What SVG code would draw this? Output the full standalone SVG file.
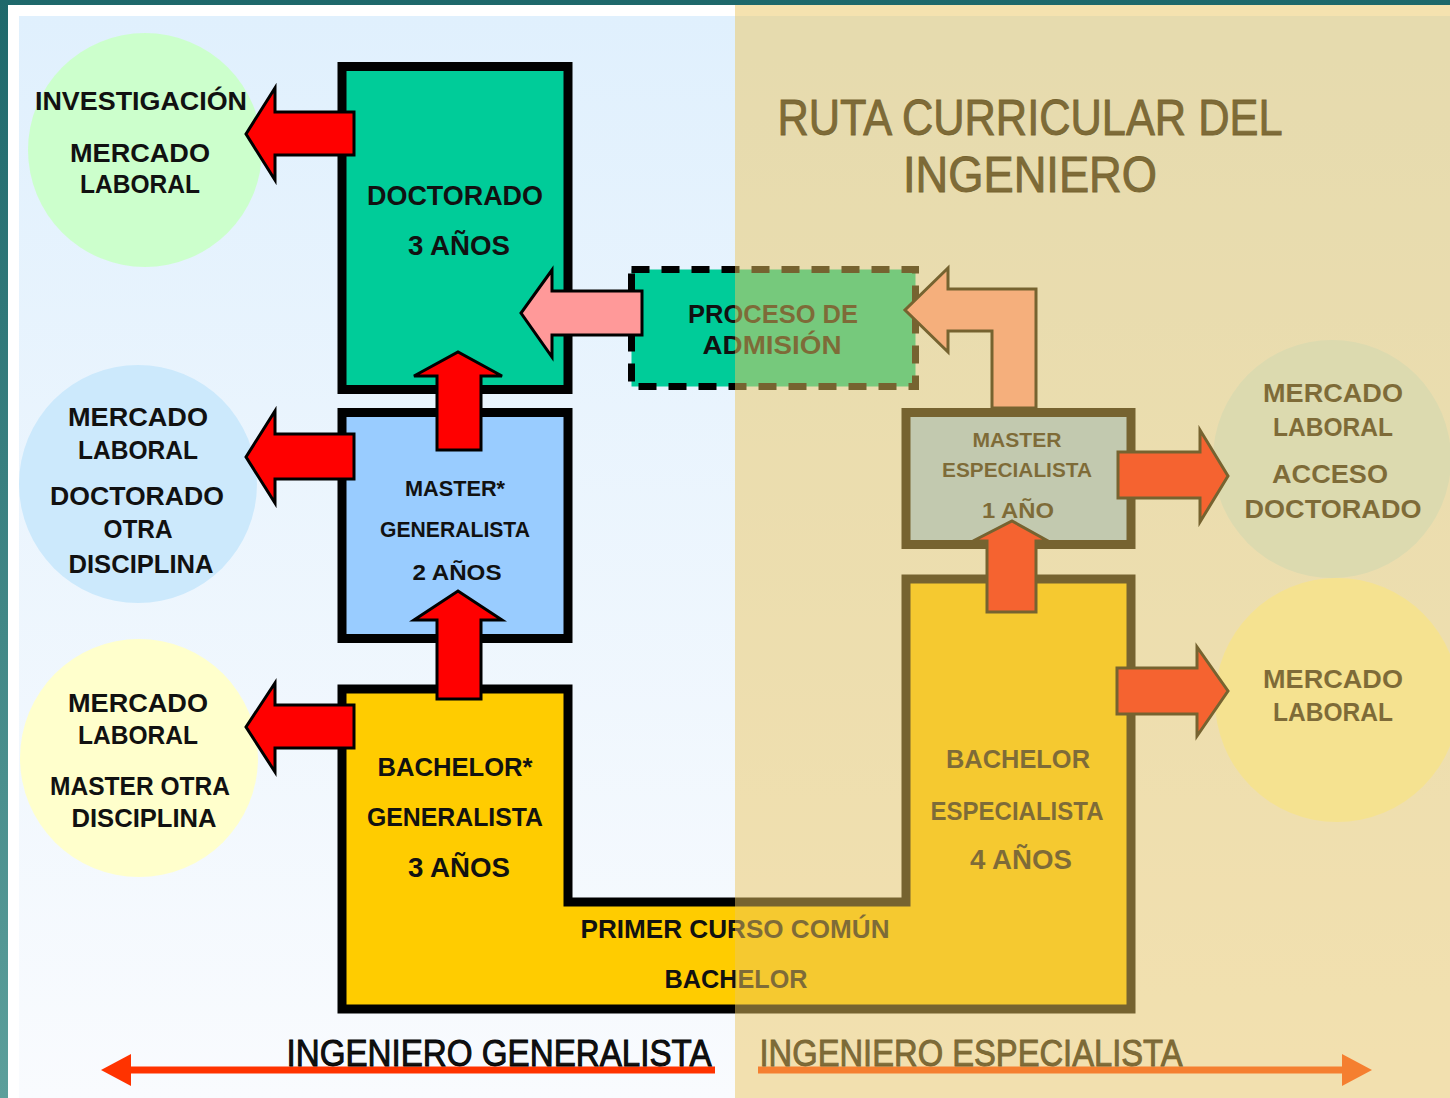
<svg xmlns="http://www.w3.org/2000/svg" width="1450" height="1098" viewBox="0 0 1450 1098">
<defs>
<linearGradient id="teal" x1="0" y1="0" x2="0" y2="1">
<stop offset="0" stop-color="#1e686b"/>
<stop offset="1" stop-color="#5c9f9b"/>
</linearGradient>
<linearGradient id="bg" x1="0" y1="0" x2="0" y2="1">
<stop offset="0" stop-color="#e0f0fd"/>
<stop offset="1" stop-color="#f9fbfe"/>
</linearGradient>
<style>
text{font-family:"Liberation Sans",Arial,sans-serif;fill:#111;text-anchor:middle}
.b{font-weight:bold}
.m{stroke:#000;stroke-width:0.9}
.box{stroke:#000;stroke-width:9}
.arr{stroke:#000;stroke-width:3;stroke-linejoin:miter}
.red{fill:#ff0000}
.pink{fill:#ff9999}
</style>
</defs>
<rect x="0" y="0" width="1450" height="1098" fill="url(#teal)"/>
<rect x="8" y="5" width="1442" height="1093" fill="#ffffff"/>
<rect x="19" y="16" width="1431" height="1082" fill="url(#bg)"/>

<g id="circle-investigacion">
<circle cx="145" cy="150" r="117" fill="#ccffcc"/>
<text class="b" x="141" y="110" font-size="25" textLength="212" lengthAdjust="spacingAndGlyphs">INVESTIGACIÓN</text>
<text class="b" x="140" y="162" font-size="25" textLength="140" lengthAdjust="spacingAndGlyphs">MERCADO</text>
<text class="b" x="140" y="193" font-size="25" textLength="120" lengthAdjust="spacingAndGlyphs">LABORAL</text>
</g>
<g id="circle-doctorado-otra">
<circle cx="138" cy="484" r="119" fill="#cce9fc"/>
<text class="b" x="138" y="426" font-size="25" textLength="140" lengthAdjust="spacingAndGlyphs">MERCADO</text>
<text class="b" x="138" y="459" font-size="25" textLength="120" lengthAdjust="spacingAndGlyphs">LABORAL</text>
<text class="b" x="137" y="505" font-size="25" textLength="174" lengthAdjust="spacingAndGlyphs">DOCTORADO</text>
<text class="b" x="138" y="538" font-size="25" textLength="69" lengthAdjust="spacingAndGlyphs">OTRA</text>
<text class="b" x="141" y="573" font-size="25" textLength="145" lengthAdjust="spacingAndGlyphs">DISCIPLINA</text>
</g>
<g id="circle-master-otra">
<circle cx="139" cy="758" r="119" fill="#ffffcc"/>
<text class="b" x="138" y="712" font-size="25" textLength="140" lengthAdjust="spacingAndGlyphs">MERCADO</text>
<text class="b" x="138" y="744" font-size="25" textLength="120" lengthAdjust="spacingAndGlyphs">LABORAL</text>
<text class="b" x="140" y="795" font-size="25" textLength="180" lengthAdjust="spacingAndGlyphs">MASTER OTRA</text>
<text class="b" x="144" y="827" font-size="25" textLength="145" lengthAdjust="spacingAndGlyphs">DISCIPLINA</text>
</g>
<g id="circle-acceso-doctorado">
<circle cx="1332" cy="459" r="119" fill="#cceeff"/>
<text class="b" x="1333" y="402" font-size="26" textLength="140" lengthAdjust="spacingAndGlyphs">MERCADO</text>
<text class="b" x="1333" y="436" font-size="26" textLength="120" lengthAdjust="spacingAndGlyphs">LABORAL</text>
<text class="b" x="1330" y="483" font-size="26" textLength="116" lengthAdjust="spacingAndGlyphs">ACCESO</text>
<text class="b" x="1333" y="518" font-size="26" textLength="177" lengthAdjust="spacingAndGlyphs">DOCTORADO</text>
</g>
<g id="circle-mercado-laboral">
<circle cx="1337" cy="700" r="122" fill="#ffffc0"/>
<text class="b" x="1333" y="688" font-size="26" textLength="140" lengthAdjust="spacingAndGlyphs">MERCADO</text>
<text class="b" x="1333" y="721" font-size="26" textLength="120" lengthAdjust="spacingAndGlyphs">LABORAL</text>
</g>

<g id="doctorado">
<rect class="box" x="342" y="66.5" width="226" height="323" fill="#00cc99"/>
<text class="b" x="455" y="205" font-size="27" textLength="176" lengthAdjust="spacingAndGlyphs">DOCTORADO</text>
<text class="b" x="459" y="255" font-size="27" textLength="102" lengthAdjust="spacingAndGlyphs">3 AÑOS</text>
</g>
<g id="master-generalista">
<rect class="box" x="342" y="412.5" width="226" height="226" fill="#99ccff"/>
<text class="b" x="455" y="496" font-size="22" textLength="100" lengthAdjust="spacingAndGlyphs">MASTER*</text>
<text class="b" x="455" y="537" font-size="22" textLength="150" lengthAdjust="spacingAndGlyphs">GENERALISTA</text>
<text class="b" x="457" y="580" font-size="22" textLength="89" lengthAdjust="spacingAndGlyphs">2 AÑOS</text>
</g>
<g id="bachelor">
<path class="box" d="M342,689 H568 V902 H906 V579 H1131 V1009 H342 Z" fill="#ffcc00"/>
<text class="b" x="455" y="776" font-size="26" textLength="155" lengthAdjust="spacingAndGlyphs">BACHELOR*</text>
<text class="b" x="455" y="826" font-size="26" textLength="176" lengthAdjust="spacingAndGlyphs">GENERALISTA</text>
<text class="b" x="459" y="877" font-size="27" textLength="102" lengthAdjust="spacingAndGlyphs">3 AÑOS</text>
<text class="b" x="735" y="938" font-size="25" textLength="309" lengthAdjust="spacingAndGlyphs">PRIMER CURSO COMÚN</text>
<text class="b" x="736" y="988" font-size="25" textLength="143" lengthAdjust="spacingAndGlyphs">BACHELOR</text>
<text class="b" x="1018" y="768" font-size="26" textLength="144" lengthAdjust="spacingAndGlyphs">BACHELOR</text>
<text class="b" x="1017" y="820" font-size="26" textLength="173" lengthAdjust="spacingAndGlyphs">ESPECIALISTA</text>
<text class="b" x="1021" y="869" font-size="27" textLength="102" lengthAdjust="spacingAndGlyphs">4 AÑOS</text>
</g>
<g id="proceso-admision">
<rect x="631.5" y="269.5" width="284" height="117" fill="#00cc99" stroke="#000" stroke-width="7" stroke-dasharray="18 12"/>
<text class="b" x="773" y="323" font-size="25" textLength="170" lengthAdjust="spacingAndGlyphs">PROCESO DE</text>
<text class="b" x="772" y="354" font-size="25" textLength="139" lengthAdjust="spacingAndGlyphs">ADMISIÓN</text>
</g>
<g id="master-especialista">
<rect class="box" x="906" y="412.5" width="225" height="132" fill="#99ccff"/>
<text class="b" x="1017" y="447" font-size="21" textLength="89" lengthAdjust="spacingAndGlyphs">MASTER</text>
<text class="b" x="1017" y="477" font-size="21" textLength="150" lengthAdjust="spacingAndGlyphs">ESPECIALISTA</text>
<text class="b" x="1018" y="518" font-size="22" textLength="72" lengthAdjust="spacingAndGlyphs">1 AÑO</text>
</g>

<g id="title">
<text class="m" x="1030" y="135" font-size="50" fill="#000" textLength="505" lengthAdjust="spacingAndGlyphs">RUTA CURRICULAR DEL</text>
<text class="m" x="1030" y="192" font-size="50" fill="#000" textLength="254" lengthAdjust="spacingAndGlyphs">INGENIERO</text>
</g>

<g id="connectors">
<polygon class="arr red" points="354,112 275,112 275,88 246,134 275,180 275,155 354,155"/>
<polygon class="arr red" points="354,434 275,434 275,411 246,457 275,503 275,479 354,479"/>
<polygon class="arr red" points="354,705 275,705 275,683 246,727 275,772 275,748 354,748"/>
<polygon class="arr red" points="437,450 437,376 414,376 458,352 502,376 481,376 481,450"/>
<polygon class="arr red" points="437,699 437,620 414,620 458,591 502,620 481,620 481,699"/>
<polygon class="arr red" points="987,612 987,541 973,541 1012,521 1048,541 1036,541 1036,612"/>
<polygon class="arr red" points="1118,452 1200,452 1200,430 1228,476 1200,522 1200,498 1118,498"/>
<polygon class="arr red" points="1117,668 1197,668 1197,647 1228,691 1197,736 1197,714 1117,714"/>
<polygon class="arr pink" points="642,291 552,291 552,270 521,313 552,357 552,335 642,335"/>
<polygon class="arr pink" points="1036,408 1036,289 948,289 948,268 905,310 948,352 948,331 992,331 992,408"/>
<line x1="128" y1="1070" x2="715" y2="1070" stroke="#ff3300" stroke-width="7"/>
<polygon points="101,1070 131,1054 131,1086" fill="#ff3300"/>
<line x1="758" y1="1070" x2="1345" y2="1070" stroke="#ff3800" stroke-width="7"/>
<polygon points="1372,1070 1342,1054 1342,1086" fill="#ff3800"/>
</g>

<g id="labels">
<text class="m" x="499" y="1066" font-size="37" fill="#000" textLength="425" lengthAdjust="spacingAndGlyphs">INGENIERO GENERALISTA</text>
<text class="m" x="971" y="1066" font-size="37" fill="#000" textLength="423" lengthAdjust="spacingAndGlyphs">INGENIERO ESPECIALISTA</text>
</g>

<rect id="overlay" x="735" y="5" width="715" height="1093" fill="#ecc660" opacity="0.5"/>
</svg>
